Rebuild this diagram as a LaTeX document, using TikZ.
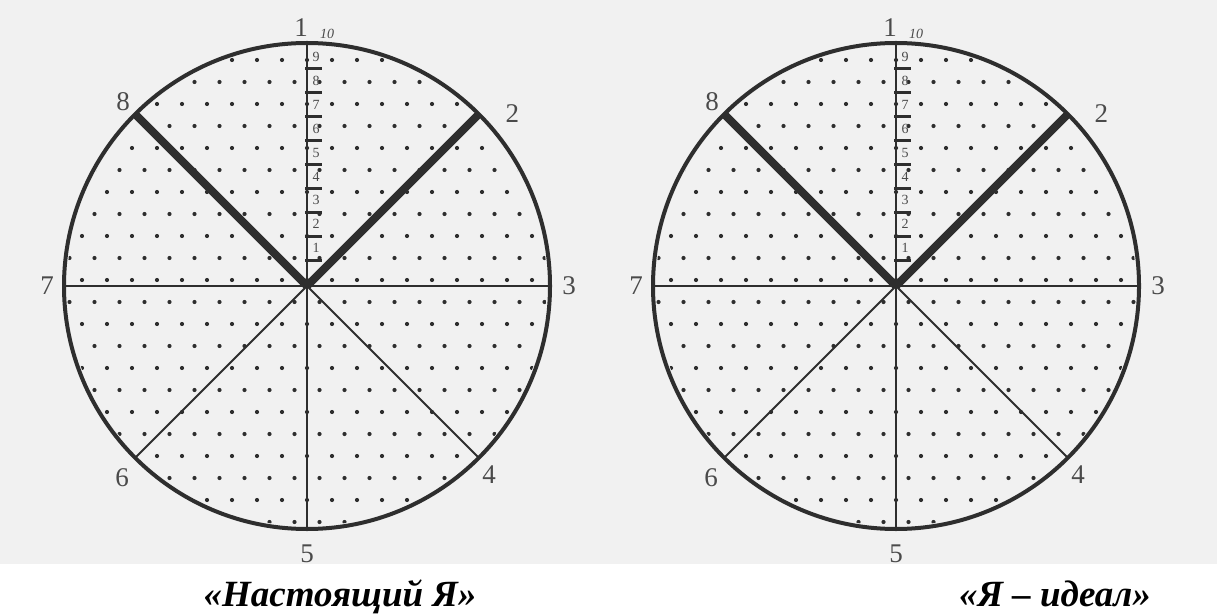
\documentclass[tikz,border=0pt]{standalone}
\usepackage{fontspec}
\setmainfont{Liberation Serif}
\usetikzlibrary{calc}
\definecolor{inkGrey}{HTML}{2E2E2E}
\definecolor{labelGrey}{HTML}{4A4A4A}
\definecolor{paperGrey}{HTML}{F1F1F1}
\tikzset{
  rimline/.style={draw=inkGrey, line width=4pt},
  spokeline/.style={draw=inkGrey, line width=1.8pt},
  boldspoke/.style={draw=inkGrey, line width=8pt},
  scaletick/.style={draw=inkGrey, line width=3pt},
  scalelabel/.style={font=\fontsize{14}{14}\selectfont, text=labelGrey, inner sep=0pt},
  toplabel/.style={font=\fontsize{14}{14}\selectfont\itshape, text=labelGrey, inner sep=0pt},
  dirlabel/.style={font=\fontsize{27}{27}\selectfont, text=labelGrey, inner sep=0pt},
  captionlabel/.style={font=\fontsize{37}{37}\selectfont\bfseries\itshape, text=black, inner sep=0pt, anchor=base},
  stipple/.style={fill=inkGrey},
}
\begin{document}
\begin{tikzpicture}[x=1pt,y=1pt]
  \useasboundingbox (0,0) rectangle (1217,614);
  % scanned page tone
  \fill[paperGrey] (0,50) rectangle (1217,614);

  \foreach \name/\cx in {real/307, ideal/896} {
    \coordinate (\name-c) at (\cx,328);
    \foreach \k in {1,...,8}
      \coordinate (\name-p\k) at ($(\name-c)+({90-(\k-1)*45}:243)$);
    % sector numbers
    \foreach \k/\ang/\rad in {2/40/268, 3/0/262, 4/314/262, 5/270/268, 6/226/266, 7/180/260, 8/135/260}
      \node[dirlabel] (\name-l\k) at ($(\name-c)+(\ang:\rad)$) {\k};
    % stippled fill
    \begin{scope}
      \clip (\name-c) circle (240);
      \foreach \j [evaluate=\j as \off using {12.5*mod(abs(\j),2)}] in {-11,...,11}
        \foreach \i in {-10,...,10}
          \fill[stipple] ($(\name-c)+(\i*25+\off,\j*22+6)$) circle (2.1);
    \end{scope}
    % spokes
    \foreach \k in {1,3,4,5,6,7}
      \draw[spokeline] (\name-c) -- (\name-p\k);
    \draw[boldspoke] (\name-c) -- (\name-p2);
    \draw[boldspoke] (\name-c) -- (\name-p8);
    \draw[rimline] (\name-c) circle (243);
    % scale 1..10
    \foreach \k in {1,...,9} {
      \draw[scaletick] ($(\name-c)+(-2,2+23.9*\k)$) -- ($(\name-c)+(15,2+23.9*\k)$);
      \node[scalelabel] (\name-s\k) at ($(\name-c)+(9,14+23.9*\k)$) {\k};
    }
    \node[dirlabel] (\name-l1) at ($(\name-c)+(-6,258)$) {1};
    \node[toplabel] (\name-s10) at ($(\name-c)+(20,252)$) {10};
  }

  \node[captionlabel] (real-cap) at (340,8) {«Настоящий Я»};
  \node[captionlabel] (ideal-cap) at (1055,8) {«Я – идеал»};
\end{tikzpicture}
\end{document}
